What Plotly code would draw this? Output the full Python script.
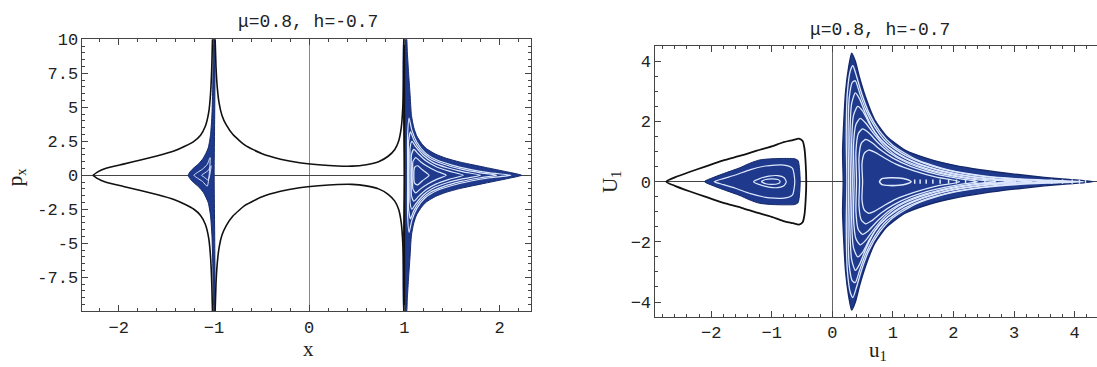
import plotly.graph_objects as go

# ---------------- left panel: (x, p_x) section ----------------
# zero-velocity curve, upper halves (lower halves are the mirror image)
zv_outer_x = [-2.27, -2.22, -2.14, -1.95, -1.77, -1.6, -1.42, -1.3, -1.21, -1.14, -1.09, -1.055, -1.035, -1.022, -1.014]
zv_outer_p = [0.0, 0.25, 0.5, 0.82, 1.12, 1.42, 1.78, 2.15, 2.5, 2.95, 3.6, 4.6, 6.0, 8.0, 10.2]
zv_mid_x = [-0.988, -0.978, -0.965, -0.945, -0.915, -0.87, -0.8, -0.67, -0.5, -0.3, -0.1, 0.1, 0.3, 0.45, 0.6, 0.73, 0.83, 0.9, 0.94, 0.968, 0.984, 0.992, 0.997]
zv_mid_p = [10.2, 8.0, 6.5, 5.3, 4.4, 3.7, 3.0, 2.2, 1.6, 1.18, 0.92, 0.77, 0.68, 0.67, 0.78, 1.0, 1.4, 1.9, 2.5, 3.5, 5.0, 7.0, 10.2]

# orbit region near x = -1 (upper half)
sea_l_x = [-1.27, -1.245, -1.21, -1.16, -1.11, -1.06, -1.035, -1.02, -1.012, -1.007, -1.004, -0.997, -0.997]
sea_l_p = [0.0, 0.3, 0.55, 0.85, 1.27, 2.0, 3.0, 4.5, 6.5, 8.5, 10.2, 10.2, 0.0]
gap_l = [
    ([-1.21, -1.17, -1.12, -1.07, -1.04], [0.0, 0.22, 0.45, 0.8, 1.3]),
    ([-1.13, -1.1, -1.06, -1.03], [0.0, 0.15, 0.35, 0.7]),
]

# orbit region near x = +1 (upper half)
sea_r_x = [1.0, 1.0, 1.02, 1.032, 1.045, 1.06, 1.075, 1.1, 1.13, 1.18, 1.23, 1.33, 1.44, 1.58, 1.72, 1.85, 1.97, 2.1, 2.23]
sea_r_p = [0.0, 10.2, 10.2, 9.0, 7.5, 6.0, 4.4, 3.5, 2.9, 2.35, 1.97, 1.55, 1.25, 0.98, 0.77, 0.58, 0.41, 0.22, 0.0]
gap_r = [
    ([1.035, 1.035, 1.05, 1.08, 1.13, 1.22, 1.35, 1.5, 1.7, 1.9, 2.12], [0.0, 3.0, 4.2, 3.3, 2.45, 1.65, 1.1, 0.75, 0.42, 0.18, 0.0]),
    ([1.045, 1.045, 1.065, 1.1, 1.17, 1.27, 1.4, 1.6, 1.8, 1.97], [0.0, 2.5, 3.2, 2.6, 1.85, 1.25, 0.85, 0.45, 0.18, 0.0]),
    ([1.06, 1.06, 1.08, 1.12, 1.2, 1.3, 1.45, 1.62, 1.8], [0.0, 2.0, 2.5, 2.1, 1.45, 0.95, 0.55, 0.25, 0.0]),
    ([1.075, 1.075, 1.1, 1.15, 1.23, 1.33, 1.47, 1.62], [0.0, 1.5, 1.9, 1.55, 1.05, 0.65, 0.3, 0.0]),
    ([1.09, 1.09, 1.12, 1.17, 1.25, 1.34, 1.44], [0.0, 1.0, 1.3, 1.0, 0.62, 0.3, 0.0]),
    ([1.1, 1.11, 1.14, 1.19, 1.26], [0.0, 0.6, 0.7, 0.4, 0.0]),
]

# ---------------- right panel: regularised (u1, U1) section ----------------
isl_bd_u = [-2.74, -2.6, -2.36, -2.1, -1.81, -1.5, -1.26, -1.0, -0.82, -0.65, -0.55, -0.49, -0.46, -0.44, -0.43]
isl_bd_U = [0.0, 0.14, 0.32, 0.5, 0.7, 0.87, 1.02, 1.17, 1.3, 1.38, 1.43, 1.35, 1.1, 0.6, 0.0]
isl_sea_u = [-2.11, -1.95, -1.75, -1.54, -1.35, -1.2, -1.0, -0.8, -0.62, -0.565, -0.54, -0.53]
isl_sea_U = [0.0, 0.15, 0.3, 0.45, 0.62, 0.72, 0.76, 0.77, 0.76, 0.7, 0.4, 0.0]
isl_gaps = [
    ([-1.95, -1.8, -1.6, -1.35, -1.1, -0.8, -0.66, -0.62], [0.0, 0.1, 0.22, 0.4, 0.52, 0.55, 0.45, 0.0]),
    ([-1.3, -1.2, -1.05, -0.9, -0.8, -0.76], [0.0, 0.1, 0.18, 0.2, 0.14, 0.0]),
]
isl_core_u = [-1.17, -1.1, -1.0, -0.9, -0.86]
isl_core_U = [0.0, 0.07, 0.09, 0.07, 0.0]

big_u = [0.18, 0.17, 0.19, 0.22, 0.27, 0.32, 0.38, 0.45, 0.55, 0.7, 0.9, 1.2, 1.6, 2.0, 2.5, 3.0, 3.5, 3.9, 4.3]
big_U = [0.0, 1.0, 2.0, 3.0, 3.8, 4.27, 4.0, 3.45, 2.8, 2.05, 1.5, 1.05, 0.75, 0.55, 0.38, 0.25, 0.14, 0.07, 0.0]
big_gaps = [
    ([0.24, 0.23, 0.25, 0.3, 0.34, 0.4, 0.48, 0.6, 0.78, 1.0, 1.4, 1.9, 2.5, 3.1, 3.6, 4.15],
     [0.0, 1.5, 3.0, 3.7, 3.85, 3.5, 2.95, 2.3, 1.68, 1.2, 0.72, 0.4, 0.19, 0.09, 0.045, 0.0]),
    ([0.27, 0.26, 0.28, 0.33, 0.38, 0.45, 0.55, 0.7, 0.9, 1.2, 1.6, 2.1, 2.7, 3.3, 3.95],
     [0.0, 1.5, 2.8, 3.3, 3.35, 2.95, 2.4, 1.82, 1.3, 0.88, 0.55, 0.3, 0.13, 0.05, 0.0]),
    ([0.3, 0.29, 0.32, 0.38, 0.45, 0.55, 0.7, 0.9, 1.2, 1.6, 2.1, 2.7, 3.2, 3.6],
     [0.0, 1.5, 2.6, 2.95, 2.75, 2.25, 1.65, 1.2, 0.8, 0.48, 0.24, 0.09, 0.035, 0.0]),
    ([0.33, 0.32, 0.35, 0.42, 0.5, 0.62, 0.8, 1.05, 1.4, 1.9, 2.5, 2.9, 3.3],
     [0.0, 1.3, 2.2, 2.5, 2.35, 1.9, 1.38, 0.95, 0.6, 0.3, 0.11, 0.04, 0.0]),
    ([0.36, 0.35, 0.39, 0.46, 0.55, 0.68, 0.86, 1.1, 1.45, 1.9, 2.4, 3.0],
     [0.0, 1.2, 1.9, 2.1, 1.95, 1.6, 1.18, 0.8, 0.5, 0.25, 0.09, 0.0]),
    ([0.4, 0.39, 0.43, 0.5, 0.6, 0.75, 0.95, 1.2, 1.55, 2.0, 2.4, 2.7],
     [0.0, 1.0, 1.6, 1.75, 1.62, 1.3, 0.95, 0.66, 0.4, 0.18, 0.06, 0.0]),
    ([0.45, 0.44, 0.48, 0.55, 0.65, 0.8, 1.0, 1.3, 1.7, 2.1, 2.4],
     [0.0, 0.8, 1.28, 1.4, 1.3, 1.05, 0.78, 0.5, 0.26, 0.1, 0.0]),
    ([0.5, 0.49, 0.53, 0.6, 0.7, 0.85, 1.05, 1.35, 1.7, 2.1],
     [0.0, 0.6, 0.95, 1.05, 0.98, 0.8, 0.58, 0.36, 0.16, 0.0]),
]
big_core_u = [0.78, 0.82, 0.95, 1.1, 1.22, 1.3]
big_core_U = [0.0, 0.1, 0.13, 0.12, 0.08, 0.0]
big_dot_u = [1.36, 1.45, 1.55, 1.66, 1.78, 1.92, 2.05, 2.2, 2.35, 2.52, 2.68, 2.85, 3.02, 3.2, 3.4, 3.62, 3.8, 3.96, 4.08, 4.18]

NAVY = "#1f3a8c"
EDGE = "#15296a"
GAP = "#dde8ff"
BLACK = "#111111"


def loop(xs, ys):
    """Close an upper-half outline by reflecting it through the axis."""
    return list(xs) + list(xs[::-1][1:]), list(ys) + [-v for v in ys[::-1][1:]]


def half(xs, ys, sign):
    return list(xs), [sign * v for v in ys]


fig = go.Figure()


def add_fill(xs, ys, xa, ya, color, edge, width=1.0):
    lx, ly = loop(xs, ys)
    fig.add_trace(go.Scatter(x=lx, y=ly, xaxis=xa, yaxis=ya, mode="lines", fill="toself",
                             fillcolor=color, line=dict(color=edge, width=width, shape="spline", smoothing=0.6),
                             hoverinfo="skip", showlegend=False))


def add_loop(xs, ys, xa, ya, color, width):
    lx, ly = loop(xs, ys)
    fig.add_trace(go.Scatter(x=lx, y=ly, xaxis=xa, yaxis=ya, mode="lines",
                             line=dict(color=color, width=width, shape="spline", smoothing=0.6),
                             hoverinfo="skip", showlegend=False))


def add_curve(xs, ys, xa, ya):
    for s in (1, -1):
        cx, cy = half(xs, ys, s)
        fig.add_trace(go.Scatter(x=cx, y=cy, xaxis=xa, yaxis=ya, mode="lines",
                                 line=dict(color=BLACK, width=1.6, shape="spline", smoothing=0.5),
                                 hoverinfo="skip", showlegend=False))


# left panel
add_fill(sea_l_x, sea_l_p, "x", "y", NAVY, EDGE)
for gx, gp in gap_l:
    add_loop(gx, gp, "x", "y", GAP, 1.0)
add_fill(sea_r_x, sea_r_p, "x", "y", NAVY, EDGE)
for gx, gp in gap_r:
    add_loop(gx, gp, "x", "y", GAP, 1.2)
add_curve(zv_outer_x, zv_outer_p, "x", "y")
add_curve(zv_mid_x, zv_mid_p, "x", "y")
fig.add_trace(go.Scatter(x=[1.0, 1.0], y=[-10, 10], xaxis="x", yaxis="y", mode="lines",
                         line=dict(color=BLACK, width=1.6), hoverinfo="skip", showlegend=False))

# right panel
isx, isy = loop(isl_bd_u, isl_bd_U)
fig.add_trace(go.Scatter(x=isx, y=isy, xaxis="x2", yaxis="y2", mode="lines",
                         line=dict(color=BLACK, width=1.8, shape="spline", smoothing=0.6),
                         hoverinfo="skip", showlegend=False))
add_fill(isl_sea_u, isl_sea_U, "x2", "y2", NAVY, EDGE)
for gx, gy in isl_gaps:
    add_loop(gx, gy, "x2", "y2", GAP, 1.2)
add_fill(isl_core_u, isl_core_U, "x2", "y2", NAVY, GAP, 1.2)

add_fill(big_u, big_U, "x2", "y2", NAVY, EDGE, 1.4)
for gx, gy in big_gaps:
    add_loop(gx, gy, "x2", "y2", GAP, 1.3)
add_fill(big_core_u, big_core_U, "x2", "y2", NAVY, GAP, 1.6)
fig.add_trace(go.Scatter(x=big_dot_u, y=[0] * len(big_dot_u), xaxis="x2", yaxis="y2", mode="markers",
                         marker=dict(color=GAP, size=3, symbol="line-ns", line=dict(color=GAP, width=1.5)),
                         hoverinfo="skip", showlegend=False))

TICKFONT = dict(family="Liberation Mono, Courier New, monospace", size=17, color="#222")
AX = dict(showgrid=False, showline=True, linecolor="#444", linewidth=1, ticks="inside",
          ticklen=6, tickcolor="#444", tickfont=TICKFONT, zeroline=True)

fig.update_layout(
    width=1097, height=367, margin=dict(l=0, r=0, t=0, b=0),
    paper_bgcolor="white", plot_bgcolor="white",
    xaxis=dict(AX, domain=[0.0752, 0.484], range=[-2.38, 2.33], tickvals=[-2, -1, 0, 1, 2],
               minor=dict(ticks="inside", dtick=0.2, ticklen=3, tickcolor="#444"), mirror="ticks",
               zerolinecolor="#888", zerolinewidth=1, anchor="y"),
    yaxis=dict(AX, domain=[0.1553, 0.9128], range=[-10, 10],
               tickvals=[-7.5, -5, -2.5, 0, 2.5, 5, 7.5, 10],
               ticktext=["-7.5", "-5", "-2.5", "0", "2.5", "5", "7.5", "10"],
               minor=dict(ticks="inside", dtick=0.5, ticklen=3, tickcolor="#444"), mirror="ticks",
               zerolinecolor="#444", zerolinewidth=1, anchor="x"),
    xaxis2=dict(AX, domain=[0.5975, 1.0], range=[-2.92, 4.37], tickvals=[-2, -1, 0, 1, 2, 3, 4],
                minor=dict(ticks="inside", dtick=0.2, ticklen=3, tickcolor="#444"), mirror="ticks",
                zerolinecolor="#666", zerolinewidth=1, anchor="y2"),
    yaxis2=dict(AX, domain=[0.139, 0.8937], range=[-4.5, 4.5], tickvals=[-4, -2, 0, 2, 4],
                minor=dict(ticks="inside", dtick=0.5, ticklen=3, tickcolor="#444"),
                zerolinecolor="#444", zerolinewidth=1, anchor="x2"),
)

TITLEFONT = dict(family="Liberation Mono, Courier New, monospace", size=18, color="#222")
LABELFONT = dict(family="Liberation Serif, Times New Roman, serif", size=21, color="#222")
fig.add_annotation(text="\u03bc=0.8, h=-0.7", x=308 / 1097, y=1 - 14 / 367, xref="paper", yref="paper",
                   showarrow=False, font=TITLEFONT, xanchor="center", yanchor="middle")
fig.add_annotation(text="\u03bc=0.8, h=-0.7", x=880 / 1097, y=1 - 23 / 367, xref="paper", yref="paper",
                   showarrow=False, font=TITLEFONT, xanchor="center", yanchor="middle")
fig.add_annotation(text="x", x=308 / 1097, y=1 - 349 / 367, xref="paper", yref="paper",
                   showarrow=False, font=LABELFONT, xanchor="center", yanchor="middle")
fig.add_annotation(text="p<sub>x</sub>", x=16 / 1097, y=1 - 173 / 367, xref="paper", yref="paper",
                   showarrow=False, font=LABELFONT, textangle=-90, xanchor="center", yanchor="middle")
fig.add_annotation(text="u<sub>1</sub>", x=878 / 1097, y=1 - 351 / 367, xref="paper", yref="paper",
                   showarrow=False, font=LABELFONT, xanchor="center", yanchor="middle")
fig.add_annotation(text="U<sub>1</sub>", x=611 / 1097, y=1 - 178 / 367, xref="paper", yref="paper",
                   showarrow=False, font=LABELFONT, textangle=-90, xanchor="center", yanchor="middle")

fig.write_html("out.html")
